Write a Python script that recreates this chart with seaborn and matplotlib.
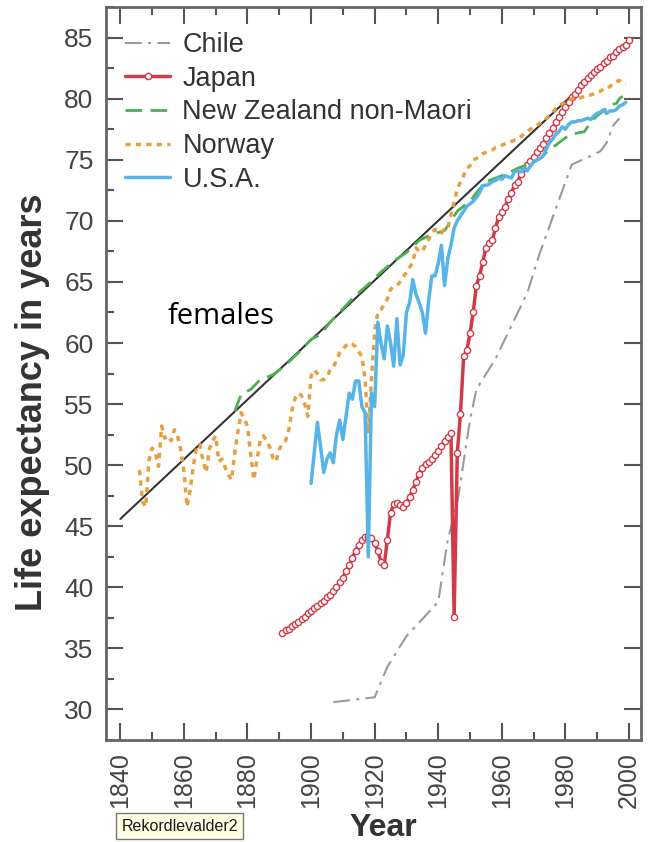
import matplotlib
matplotlib.use('Agg')
import matplotlib.pyplot as plt
import seaborn as sns
from matplotlib.ticker import MultipleLocator

sns.set_style('ticks')
plt.rcParams['font.family'] = ['Liberation Sans', 'DejaVu Sans']

# ---- data (female life expectancy) ----
record_years = [1840, 1985]
record_e0 = [45.6, 81.0]

chile_years = [1907, 1920, 1924, 1930, 1940, 1943, 1946, 1950, 1952, 1958,
               1963, 1968, 1972, 1977, 1982, 1987, 1991, 1993, 1995, 1997]
chile_e0 = [30.6, 31.0, 33.5, 36.0, 38.8, 43.9, 46.9, 53.7, 56.2, 58.7,
            61.4, 64.1, 67.4, 71.0, 74.6, 75.2, 75.7, 76.4, 77.8, 78.4]

japan_years = list(range(1891, 2001))
japan_e0 = [36.3, 36.5, 36.6, 36.8, 37.0, 37.2, 37.4, 37.6, 37.9, 38.1,
            38.3, 38.5, 38.7, 38.9, 39.2, 39.4, 39.7, 40.0, 40.4, 40.8,
            41.3, 41.8, 42.4, 43.0, 43.5, 43.9, 44.1, 44.1, 44.0, 43.6,
            43.0, 42.1, 41.8, 43.9, 46.1, 46.8, 46.9, 46.7, 46.6, 46.9,
            47.4, 48.0, 48.6, 49.3, 49.8, 50.1, 50.3, 50.5, 50.8, 51.2,
            51.6, 52.0, 52.3, 52.6, 37.6, 51.0, 54.2, 58.9, 59.4, 60.8,
            62.5, 64.7, 65.5, 66.6, 67.8, 68.2, 68.4, 69.4, 70.3, 70.7,
            71.1, 71.8, 72.3, 72.9, 73.2, 73.8, 74.3, 74.6, 74.9, 75.2,
            75.6, 76.0, 76.3, 76.8, 77.2, 77.6, 78.1, 78.5, 78.9, 79.3,
            79.7, 80.1, 80.4, 80.7, 81.1, 81.4, 81.7, 81.9, 82.2, 82.4,
            82.6, 82.9, 83.1, 83.4, 83.5, 83.8, 84.1, 84.2, 84.4, 84.8]

nz_years = [1876, 1878, 1881, 1884, 1888, 1892, 1896, 1900, 1903, 1906,
            1910, 1914, 1918, 1922, 1926, 1930, 1934, 1938, 1942, 1946,
            1950, 1952, 1955, 1958, 1960, 1962, 1965, 1968, 1970, 1972,
            1974, 1976, 1978, 1980, 1982, 1984, 1986, 1988, 1990, 1992,
            1994, 1996, 1997, 1998]
nz_e0 = [54.4, 55.8, 56.2, 57.0, 57.4, 58.2, 59.2, 60.3, 60.7, 61.7,
         62.8, 63.9, 64.8, 65.8, 66.7, 67.4, 68.4, 68.9, 69.2, 70.8,
         71.6, 72.3, 73.2, 73.5, 73.7, 73.9, 74.3, 74.6, 74.8, 75.1,
         75.6, 76.0, 76.4, 76.8, 77.1, 77.2, 77.3, 78.1, 78.6, 79.0,
         79.5, 79.6, 80.0, 80.2]

norway_years = list(range(1846, 2000))
norway_e0 = [49.6, 47.0, 46.6, 50.4, 51.4, 51.0, 49.9, 53.2, 52.2, 52.4,
             52.0, 52.9, 52.4, 51.3, 49.5, 46.6, 48.0, 50.0, 51.5, 51.7,
             50.4, 49.4, 51.3, 52.0, 52.4, 50.3, 50.5, 49.8, 49.2, 48.8,
             51.0, 52.8, 54.3, 53.8, 53.2, 50.9, 48.8, 50.5, 52.0, 52.4,
             52.0, 51.5, 50.6, 50.3, 51.3, 51.8, 52.0, 52.9, 54.5, 55.5,
             55.9, 55.7, 55.0, 54.0, 57.3, 57.8, 57.5, 57.0, 57.0, 57.2,
             57.8, 58.0, 58.6, 59.2, 59.5, 59.8, 60.0, 59.9, 59.7, 59.3,
             58.9, 57.0, 52.6, 57.0, 61.0, 62.5, 62.7, 63.2, 63.6, 64.4,
             64.6, 64.7, 65.0, 65.4, 65.8, 66.2, 66.6, 67.8, 67.5, 67.5,
             68.0, 68.5, 69.0, 69.3, 69.2, 69.0, 69.4, 69.4, 70.5, 71.5,
             72.6, 73.2, 73.7, 74.3, 74.5, 75.0, 75.1, 75.3, 75.5, 75.6,
             75.7, 75.8, 76.0, 76.1, 76.2, 76.3, 76.4, 76.5, 76.6, 76.7,
             76.9, 77.1, 77.3, 77.5, 77.7, 77.8, 78.0, 78.2, 78.4, 78.6,
             78.9, 79.2, 79.4, 79.6, 79.7, 79.8, 80.0, 80.0, 80.0, 80.1,
             80.2, 80.3, 80.3, 80.4, 80.5, 80.6, 80.8, 80.8, 81.0, 81.2,
             81.4, 81.5, 81.3, 81.2]

usa_years = list(range(1900, 2000))
usa_e0 = [48.5, 51.0, 53.5, 51.5, 49.4, 50.5, 51.0, 50.2, 52.5, 53.7,
          52.1, 54.0, 55.9, 55.4, 56.9, 56.9, 54.8, 54.3, 42.5, 55.9,
          54.8, 61.7, 60.0, 58.7, 61.4, 60.0, 58.1, 62.0, 58.2, 59.0,
          62.5, 63.3, 65.2, 64.0, 63.3, 62.5, 60.8, 63.5, 65.5, 65.5,
          66.5, 68.0, 64.7, 66.9, 68.0, 69.4, 70.0, 70.4, 70.8, 71.2,
          71.4, 71.6, 71.9, 72.3, 72.9, 72.9, 73.0, 73.2, 73.3, 73.5,
          73.4, 73.7, 73.6, 73.5, 74.0, 74.1, 74.0, 74.3, 74.1, 74.5,
          74.8, 75.0, 75.1, 75.3, 75.9, 76.4, 76.7, 77.1, 77.3, 77.7,
          77.5, 77.9, 78.1, 78.1, 78.2, 78.2, 78.3, 78.4, 78.3, 78.6,
          78.8, 78.9, 79.1, 78.8, 79.0, 79.0, 79.1, 79.4, 79.5, 79.7]

x_ticks = [1840, 1860, 1880, 1900, 1920, 1940, 1960, 1980, 2000]
y_ticks = [30, 35, 40, 45, 50, 55, 60, 65, 70, 75, 80, 85]

# ---- figure ----
fig = plt.figure(figsize=(6.52, 8.42), dpi=100)
ax = fig.add_axes([0.1626, 0.1211, 0.8206, 0.8705])

sns.lineplot(x=record_years, y=record_e0, ax=ax, color='#333333', lw=1.5,
             errorbar=None)
sns.lineplot(x=chile_years, y=chile_e0, ax=ax, color='#9a9a9a', lw=1.5,
             linestyle=(0, (8, 3, 1.5, 3)), errorbar=None, label='Chile')
sns.lineplot(x=japan_years, y=japan_e0, ax=ax, color='#d23a47', lw=2.5,
             marker='o', markersize=4.5, markerfacecolor='white',
             markeredgecolor='#d23a47', markeredgewidth=1,
             errorbar=None, label='Japan')
sns.lineplot(x=nz_years, y=nz_e0, ax=ax, color='#4caf50', lw=2,
             linestyle=(0, (6, 3)), errorbar=None,
             label='New Zealand non-Maori')
sns.lineplot(x=norway_years, y=norway_e0, ax=ax, color='#e5a040', lw=2.5,
             linestyle=(0, (1.5, 1.5)), errorbar=None, label='Norway')
sns.lineplot(x=usa_years, y=usa_e0, ax=ax, color='#56b4e9', lw=2.5,
             errorbar=None, label='U.S.A.')

ax.set_xlim(1835.5, 2003.8)
ax.set_ylim(27.5, 87.5)
ax.set_xticks(x_ticks)
ax.set_xticklabels([str(t) for t in x_ticks], rotation=90)
ax.set_yticks(y_ticks)
ax.xaxis.set_minor_locator(MultipleLocator(10))
ax.yaxis.set_minor_locator(MultipleLocator(2.5))
ax.tick_params(which='major', direction='in', top=True, right=True,
               length=12, width=1.5, color='#555555',
               labelcolor='#444444')
ax.tick_params(axis='y', which='major', labelsize=19, pad=9)
ax.tick_params(axis='x', which='major', labelsize=18, pad=9)
ax.tick_params(which='minor', direction='in', top=True, right=False,
               length=6, width=1.5, color='#555555')
for side in ['left', 'right', 'top', 'bottom']:
    ax.spines[side].set_color('#666666')
    ax.spines[side].set_linewidth(2)

ax.set_xlabel('Year', fontsize=23, fontweight='bold', color='#333333')
ax.set_ylabel('Life expectancy in years', fontsize=26, fontweight='bold',
              color='#333333')
ax.xaxis.set_label_coords(0.518, -0.099)
ax.yaxis.set_label_coords(-0.105, 0.461)

ax.text(1855, 62.2, 'females', fontsize=21, color='black', va='center',
        family=['Open Sans', 'DejaVu Sans'])

ax.legend(loc='upper left', bbox_to_anchor=(0, 0.9915), frameon=False,
          fontsize=19.5, handlelength=1.67, handletextpad=0.45,
          labelspacing=0.28, borderaxespad=0.3, borderpad=0.4,
          labelcolor='#333333')

fig.text(0.186, 0.019, 'Rekordlevalder2', fontsize=11.5, color='#1a1a1a',
         va='center', family=['Liberation Sans', 'DejaVu Sans'],
         bbox=dict(boxstyle='square,pad=0.35', fc='#ffffe1', ec='#767676',
                   lw=1))

fig.savefig('out.png', dpi=100)
